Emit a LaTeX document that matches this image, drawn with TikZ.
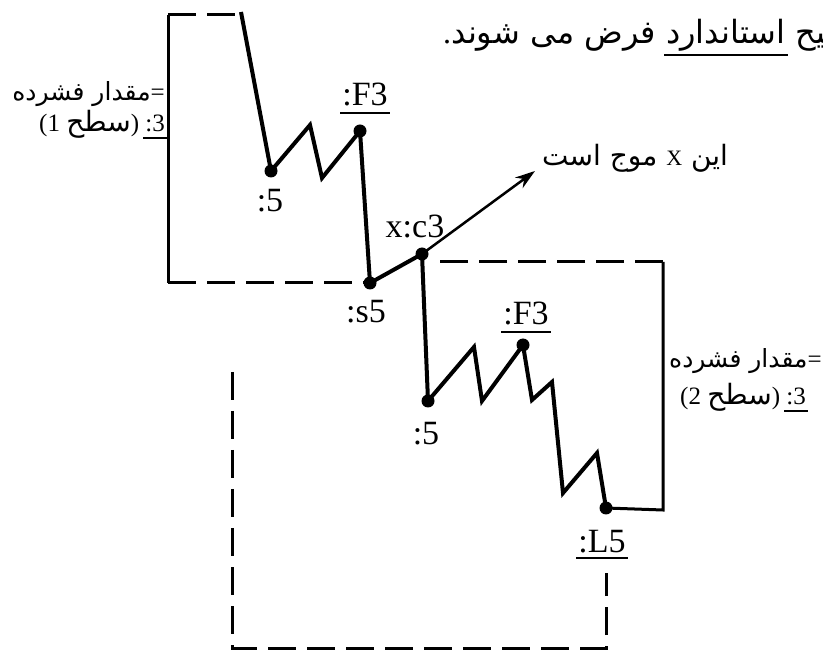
\documentclass[tikz,border=0pt]{standalone}
\usepackage{fontspec}
\setmainfont{Liberation Serif}
\newfontfamily\arabicfont[Script=Arabic]{DejaVu Sans}
\TeXXeTstate=1
\usetikzlibrary{positioning,arrows.meta}
% a right-to-left run of Persian text
\newcommand{\fa}[1]{{\arabicfont\beginR #1\endR}}
\newcommand{\undr}[2][8pt]{\setbox0\hbox{#2}\hbox{\rlap{\hskip-2pt\rule[-#1]{\dimexpr\wd0+4pt\relax}{1.6pt}}\box0}}
\tikzset{
  dot/.style={circle,fill=black,inner sep=0pt,minimum size=13pt},
  wave/.style={draw=black,line width=4pt,line join=miter},
  box/.style={line width=3pt},
  dbox/.style={line width=3pt,dash pattern=on 28pt off 11pt},
  lab/.style={inner sep=0pt,font=\fontsize{34}{40}\selectfont},
  note/.style={inner sep=0pt,font=\fontsize{25}{30}\selectfont},
}

\begin{document}
\begin{tikzpicture}[x=1pt,y=-1pt]
\useasboundingbox (0,0) rectangle (823,652);
% chain points
\coordinate (p0) at (241,12);
\coordinate (p1) at (271,171);
\coordinate (z1) at (310,125);
\coordinate (z2) at (322,178);
\coordinate (p2) at (360,131);
\coordinate (p3) at (370,283);
\coordinate (p4) at (422,254);
\coordinate (p5) at (428,401);
\coordinate (z3) at (474,347);
\coordinate (z4) at (482,401);
\coordinate (p6) at (523,345);
\coordinate (z5) at (532,400);
\coordinate (z6) at (552,382);
\coordinate (z7) at (563,493);
\coordinate (z8) at (597,453);
\coordinate (p7) at (606,508);
% boxes
\draw[dbox] (168,15) -- (235,15);
\draw[box] (168,15) -- (168,283);
\draw[dbox] (168,283) -- (p3);
\draw[dbox] (663,262) -- (440,262);
\draw[box] (663,262) -- (663,510) -- (p7);
\draw[dbox] (232,372) -- (232,648) -- (606,648) -- (606,573);
% chain
\draw[wave] (p0) -- (p1) -- (z1) -- (z2) -- (p2) -- (p3) -- (p4) -- (p5)
  -- (z3) -- (z4) -- (p6) -- (z5) -- (z6) -- (z7) -- (z8) -- (p7);
\coordinate (tip) at (535,171);
\draw[line width=2.5pt,-{Stealth[length=20pt,width=13pt]}] (p4) -- (tip);
\node[dot] (n1) at (p1) {};
\node[dot] (n2) at (p2) {};
\node[dot] (n3) at (p3) {};
\node[dot] (n4) at (p4) {};
\node[dot] (n5) at (p5) {};
\node[dot] (n6) at (p6) {};
\node[dot] (n7) at (p7) {};
% labels
\node[lab,anchor=base] (l1) at (270,212) {:5};
\node[lab,anchor=base] (l2) at (365,106) {\undr{:F3}};
\node[lab,anchor=base] (l3) at (366,323) {:s5};
\node[lab,anchor=base] (l4) at (415,238) {x:c3};
\node[lab,anchor=base] (l5) at (426,445) {:5};
\node[lab,anchor=base] (l6) at (526,325) {\undr{:F3}};
\node[lab,anchor=base] (l7) at (602,552) {\undr[7pt]{:L5}};
% notes
\node[note,anchor=base east] (t1) at (165,101) {\fa{مقدار فشرده}=};
\node[note,anchor=base east] (t2) at (165,132)
  {(1 {\fontsize{28}{32}\selectfont\fa{سطح}}) \undr[7pt]{:3}};
\node[note,anchor=base west] (t3) at (669,368) {\fa{مقدار فشرده}=};
\node[note,anchor=base west] (t4) at (680,405)
  {(2 {\fontsize{28}{32}\selectfont\fa{سطح}}) \undr[7pt]{:3}};
\node[note,anchor=base west,font=\fontsize{28}{32}\selectfont] (t5) at (542,166)
  {\fa{این {\rmfamily\fontsize{22}{26}\selectfont X} موج است}};
\node[note,anchor=base west,font=\fontsize{32}{36}\selectfont] (t6) at (443,44)
  {\fa{صحیح \undr[12pt]{استاندارد} فرض می شوند{\rmfamily.}}};
\end{tikzpicture}
\end{document}
